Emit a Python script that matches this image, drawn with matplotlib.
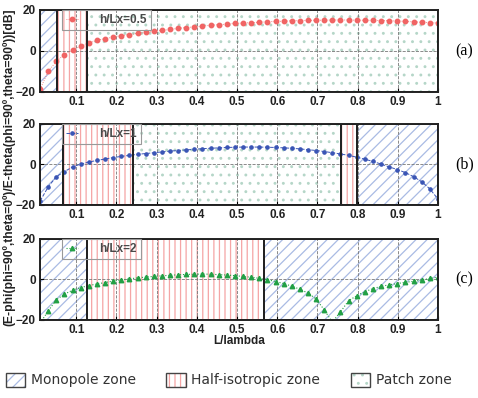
import numpy as np
import matplotlib
matplotlib.use("Agg")
import matplotlib.pyplot as plt
from matplotlib.patches import Patch, Rectangle
from matplotlib.legend_handler import HandlerBase

plt.rcParams["font.family"] = ["Liberation Sans", "DejaVu Sans"]
plt.rcParams["hatch.linewidth"] = 0.9

# L/lambda sample points shared by the three curves
L_lambda = np.round(np.linspace(0.01, 1.0, 50), 4)

# ratio in dB, h/Lx = 0.5
ratio_a = [-18.5, -10.0, -5.0, -1.8, 0.5, 2.3, 4.0, 5.2, 6.0, 6.8,
           7.5, 8.0, 8.6, 9.1, 9.6, 10.0, 10.5, 11.0, 11.4, 11.8,
           12.1, 12.5, 12.8, 13.1, 13.4, 13.6, 13.8, 14.0, 14.2, 14.4,
           14.5, 14.7, 14.8, 14.9, 15.0, 15.0, 15.1, 15.1, 15.1, 15.0,
           15.0, 14.9, 14.8, 14.7, 14.6, 14.4, 14.2, 14.0, 13.8, 13.6]

# h/Lx = 1
ratio_b = [-18.0, -11.0, -6.0, -3.5, -1.2, 0.2, 1.2, 2.0, 2.7, 3.4,
           4.0, 4.5, 5.0, 5.4, 5.8, 6.2, 6.6, 6.9, 7.2, 7.5,
           7.8, 8.0, 8.2, 8.4, 8.5, 8.6, 8.6, 8.6, 8.5, 8.4,
           8.2, 8.0, 7.7, 7.3, 6.9, 6.4, 5.8, 5.2, 4.5, 3.6,
           2.6, 1.5, 0.2, -1.2, -2.5, -4.0, -6.0, -8.5, -12.0, -17.0]

# h/Lx = 2
ratio_c = [-21.5, -15.5, -10.0, -7.2, -5.3, -4.0, -3.0, -2.2, -1.5, -0.8,
           -0.2, 0.3, 0.8, 1.2, 1.5, 1.8, 2.1, 2.3, 2.5, 2.6,
           2.7, 2.6, 2.4, 2.2, 1.9, 1.5, 1.1, 0.6, -0.1, -1.0,
           -2.0, -3.3, -4.8, -6.7, -9.6, -15.0, -21.0, -16.0, -10.5, -8.0,
           -6.0, -4.5, -3.4, -2.6, -2.0, -1.4, -0.9, -0.3, 0.5, 1.2]

# zone limits (L/lambda) per panel
zones_a = [("mono", 0.01, 0.053), ("half", 0.053, 0.127), ("patch", 0.127, 1.0)]
zones_b = [("mono", 0.01, 0.068), ("half", 0.068, 0.242), ("patch", 0.242, 0.758),
           ("half", 0.758, 0.798), ("mono", 0.798, 1.0)]
zones_c = [("mono", 0.01, 0.127), ("half", 0.127, 0.566), ("mono", 0.566, 1.0)]

panel_names = ["(a)", "(b)", "(c)"]
legend_labels = ["h/Lx=0.5", "h/Lx=1", "h/Lx=2"]
zone_labels = ["Monopole zone", "Half-isotropic zone", "Patch zone"]

zone_style = {
    "mono": dict(hatch="///", edgecolor="#a9bbe4"),
    "half": dict(hatch="|||", edgecolor="#f5a5a5"),
    "patch": dict(hatch="..", edgecolor="#b5d6c8"),
}
series_style = [
    dict(color="#f06464", marker="o", ms=3.2, ls=":", lw=0.6),
    dict(color="#3a55b5", marker="o", ms=2.3, ls="--", lw=0.7),
    dict(color="#22a045", marker="^", ms=3.2, ls=":", lw=0.8),
]


class HatchBox(HandlerBase):
    # hatched swatch with a dark outline
    def create_artists(self, legend, orig_handle, xdescent, ydescent,
                       width, height, fontsize, trans):
        fill = Rectangle((-xdescent, -ydescent), width, height,
                         facecolor="white", hatch=orig_handle.get_hatch(),
                         edgecolor=orig_handle.get_edgecolor(), linewidth=0,
                         transform=trans)
        edge = Rectangle((-xdescent, -ydescent), width, height, fill=False,
                         edgecolor="#444444", linewidth=1.0, transform=trans)
        return [fill, edge]


fig = plt.figure(figsize=(4.78, 3.98), dpi=100)
boxes = [[0.084, 0.769, 0.832, 0.206],
         [0.084, 0.485, 0.832, 0.2035],
         [0.084, 0.196, 0.832, 0.2035]]

xticks = [0.1, 0.2, 0.3, 0.4, 0.5, 0.6, 0.7, 0.8, 0.9, 1.0]
xticklabels = ["0.1", "0.2", "0.3", "0.4", "0.5", "0.6", "0.7", "0.8", "0.9", "1"]

for i, (zones, vals) in enumerate(zip([zones_a, zones_b, zones_c],
                                      [ratio_a, ratio_b, ratio_c])):
    ax = fig.add_axes(boxes[i])
    for kind, x0, x1 in zones:
        ax.axvspan(x0, x1, facecolor="white", linewidth=0, zorder=0.5,
                   **zone_style[kind])
        ax.axvspan(x0, x1, fill=False, edgecolor="#222222", linewidth=1.4,
                   zorder=3)
    line, = ax.plot(L_lambda, vals, zorder=2.5, label=legend_labels[i],
                    **series_style[i])
    ax.set_xlim(0.01, 1.0)
    ax.set_ylim(-20, 20)
    ax.set_xticks(xticks)
    ax.set_xticklabels(xticklabels)
    ax.set_yticks([-20, 0, 20])
    ax.tick_params(direction="in", length=3, labelsize=8.5, pad=3)
    for lab in ax.get_xticklabels() + ax.get_yticklabels():
        lab.set_fontweight("bold")
        lab.set_color("#222222")
    ax.grid(True, linestyle="--", color="#777777", linewidth=0.6)
    for sp in ax.spines.values():
        sp.set_linewidth(1.4)
        sp.set_color("#222222")
        sp.set_zorder(4)
    leg = ax.legend(loc="upper left", bbox_to_anchor=(0.055, 1.0),
                    handlelength=1.0, handletextpad=1.8, borderpad=0.35,
                    borderaxespad=0.0, fancybox=False, framealpha=1.0,
                    prop=dict(size=8.5, weight="bold"))
    leg.get_frame().set_facecolor("none")
    leg.get_frame().set_edgecolor("#999999")
    leg.get_frame().set_linewidth(0.8)
    for t in leg.get_texts():
        t.set_color("#4a4a4a")
    leg.set_zorder(5)
    fig.text(0.971, boxes[i][1] + boxes[i][3] / 2, panel_names[i],
             family="Liberation Serif", fontsize=11.5, ha="center", va="center")

fig.text(0.019, 0.58,
         "(E-phi(phi=90\u00ba,theta=0\u00ba)/E-theta(phi=90\u00ba,theta=90\u00ba))[dB]",
         rotation=90, ha="center", va="center", fontsize=8.7, fontweight="bold",
         color="#222222")
fig.text(0.5, 0.143, "L/lambda", ha="center", va="center", fontsize=8.5,
         fontweight="bold", color="#222222")

handles = [Patch(**zone_style[k]) for k in ["mono", "half", "patch"]]
zleg = fig.legend(handles, zone_labels, loc="lower center", ncol=3,
                  bbox_to_anchor=(0.478, -0.005), frameon=False,
                  handler_map={Patch: HatchBox()},
                  handlelength=1.4, handleheight=1.2, handletextpad=0.4,
                  columnspacing=2.2,
                  prop=dict(family="DejaVu Sans", size=10))
for t in zleg.get_texts():
    t.set_color("#333333")

fig.savefig("out.png", dpi=100)
